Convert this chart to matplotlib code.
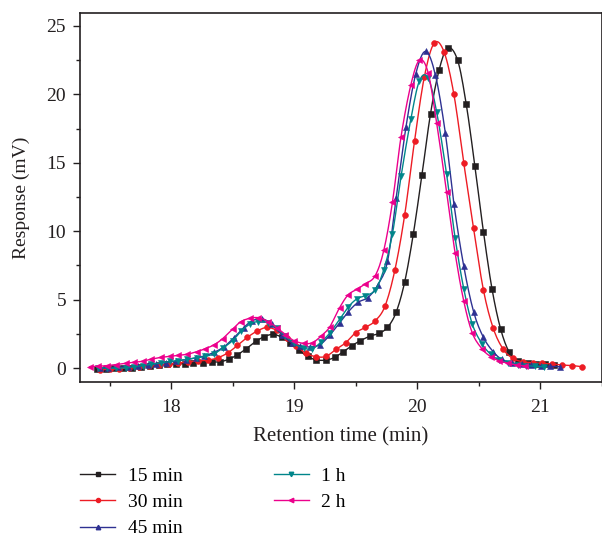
import matplotlib
matplotlib.use("Agg")
import matplotlib.pyplot as plt
from matplotlib.ticker import MultipleLocator
from matplotlib.lines import Line2D
import numpy as np

plt.rcParams['font.family'] = ['Liberation Serif', 'DejaVu Serif']

# ---- data ----
t_15min = [17.40, 17.47, 17.54, 17.61, 17.68, 17.76, 17.83, 17.90, 17.97, 18.04,
           18.11, 18.18, 18.26, 18.33, 18.40, 18.47, 18.54, 18.61, 18.69, 18.76,
           18.83, 18.90, 18.97, 19.04, 19.11, 19.18, 19.26, 19.33, 19.40, 19.47,
           19.54, 19.62, 19.69, 19.76, 19.83, 19.90, 19.97, 20.04, 20.11, 20.18,
           20.25, 20.33, 20.40, 20.47, 20.54, 20.61, 20.68, 20.75, 20.82, 20.90,
           20.97, 21.04, 21.11]
y_15min = [-0.05, -0.05, -0.03, 0.0, 0.03, 0.07, 0.12, 0.2, 0.26, 0.3,
           0.33, 0.37, 0.39, 0.42, 0.46, 0.64, 0.97, 1.4, 1.95, 2.3,
           2.46, 2.25, 1.8, 1.3, 0.85, 0.6, 0.58, 0.78, 1.19, 1.63,
           2.0, 2.34, 2.53, 2.97, 4.07, 6.3, 9.8, 14.1, 18.6, 21.8,
           23.4, 22.5, 19.3, 14.8, 9.97, 5.77, 2.85, 1.15, 0.55, 0.38,
           0.3, 0.26, 0.22]

t_30min = [17.42, 17.50, 17.58, 17.66, 17.74, 17.82, 17.90, 17.98, 18.06, 18.14,
           18.22, 18.30, 18.38, 18.46, 18.54, 18.62, 18.70, 18.78, 18.86, 18.94,
           19.02, 19.10, 19.18, 19.26, 19.34, 19.42, 19.50, 19.58, 19.66, 19.74,
           19.82, 19.90, 19.98, 20.06, 20.14, 20.22, 20.30, 20.38, 20.46, 20.54,
           20.62, 20.70, 20.78, 20.86, 20.94, 21.02, 21.10, 21.18, 21.26, 21.34]
y_30min = [-0.12, -0.1, -0.05, 0.03, 0.08, 0.13, 0.2, 0.28, 0.36, 0.45,
           0.52, 0.58, 0.75, 1.1, 1.65, 2.24, 2.7, 2.97, 2.75, 2.2,
           1.6, 1.07, 0.83, 0.85, 1.36, 1.85, 2.58, 2.97, 3.45, 4.53,
           7.16, 11.2, 16.6, 21.3, 23.75, 23.1, 20.0, 15.0, 10.2, 5.7,
           2.9, 1.39, 0.7, 0.46, 0.4, 0.34, 0.3, 0.22, 0.18, 0.1]

t_45min = [17.42, 17.49, 17.57, 17.65, 17.73, 17.81, 17.88, 17.96, 18.04, 18.12,
           18.20, 18.27, 18.35, 18.43, 18.51, 18.59, 18.66, 18.74, 18.82, 18.90,
           18.98, 19.05, 19.13, 19.21, 19.29, 19.37, 19.44, 19.52, 19.60, 19.68,
           19.76, 19.83, 19.91, 19.99, 20.07, 20.15, 20.23, 20.30, 20.38, 20.46,
           20.54, 20.62, 20.69, 20.77, 20.85, 20.93, 21.01, 21.08, 21.16]
y_45min = [0.0, 0.03, 0.06, 0.1, 0.15, 0.22, 0.3, 0.4, 0.5, 0.6,
           0.75, 0.88, 1.15, 1.55, 2.2, 2.95, 3.45, 3.6, 3.2, 2.45,
           1.85, 1.6, 1.55, 1.7, 2.4, 3.3, 4.1, 4.8, 5.15, 6.05,
           7.8, 12.4, 17.6, 21.5, 23.15, 21.4, 17.2, 12.0, 7.45, 4.12,
           2.24, 1.19, 0.63, 0.4, 0.28, 0.2, 0.15, 0.12, 0.1]

t_1h = [17.41, 17.48, 17.55, 17.63, 17.70, 17.77, 17.84, 17.92, 17.99, 18.06,
        18.13, 18.21, 18.28, 18.35, 18.42, 18.50, 18.57, 18.64, 18.71, 18.79,
        18.86, 18.93, 19.00, 19.08, 19.15, 19.22, 19.29, 19.37, 19.44, 19.51,
        19.58, 19.66, 19.73, 19.80, 19.87, 19.95, 20.02, 20.09, 20.16, 20.24,
        20.31, 20.38, 20.45, 20.53, 20.60, 20.67, 20.74, 20.82, 20.89, 20.96,
        21.03]
y_1h = [0.0, 0.0, -0.02, 0.02, 0.1, 0.18, 0.28, 0.38, 0.48, 0.55,
        0.65, 0.75, 0.85, 1.05, 1.45, 2.0, 2.7, 3.2, 3.4, 3.3,
        2.9, 2.35, 1.8, 1.45, 1.42, 1.9, 2.55, 3.55, 4.45, 5.05,
        5.3, 5.7, 7.2, 9.8, 14.0, 18.2, 21.0, 21.2, 18.7, 14.2,
        9.5, 5.8, 3.2, 1.75, 1.0, 0.58, 0.4, 0.25, 0.18, 0.12,
        0.1]

t_2h = [17.34, 17.41, 17.48, 17.55, 17.63, 17.70, 17.77, 17.84, 17.92, 17.99,
        18.06, 18.13, 18.21, 18.28, 18.35, 18.42, 18.50, 18.57, 18.64, 18.71,
        18.79, 18.86, 18.93, 19.00, 19.08, 19.15, 19.22, 19.29, 19.37, 19.44,
        19.51, 19.58, 19.66, 19.73, 19.80, 19.87, 19.95, 20.02, 20.09, 20.16,
        20.24, 20.31, 20.38, 20.45, 20.53, 20.60, 20.67, 20.74, 20.81, 20.88]
y_2h = [0.1, 0.13, 0.18, 0.25, 0.35, 0.42, 0.5, 0.65, 0.78, 0.85,
        0.93, 1.0, 1.2, 1.42, 1.7, 2.15, 2.85, 3.4, 3.63, 3.68,
        3.4, 2.95, 2.45, 2.0, 1.8, 1.85, 2.34, 3.0, 4.4, 5.35,
        5.75, 6.15, 6.75, 8.6, 12.1, 16.9, 20.7, 22.5, 21.6, 17.9,
        12.9, 8.4, 4.9, 2.55, 1.39, 0.83, 0.52, 0.35, 0.22, 0.15]

labels = ['15 min', '30 min', '45 min', '1 h', '2 h']
x_ticks = [18, 19, 20, 21]
y_ticks = [0, 5, 10, 15, 20, 25]

series = [
    (t_15min, y_15min, '#231f20', 's', 4.0),
    (t_30min, y_30min, '#ed1c24', 'o', 4.2),
    (t_45min, y_45min, '#2e3192', '^', 4.6),
    (t_1h, y_1h, '#00858a', 'v', 4.6),
    (t_2h, y_2h, '#ec008c', '<', 4.6),
]


def smooth_path(x, y, n=8):
    """Catmull-Rom curve through the data points (rendering only)."""
    p = np.column_stack([x, y]).astype(float)
    p = np.vstack([p[0], p, p[-1]])
    out = []
    s = np.linspace(0, 1, n, endpoint=False)[:, None]
    for i in range(1, len(p) - 2):
        p0, p1, p2, p3 = p[i - 1], p[i], p[i + 1], p[i + 2]
        seg = 0.5 * ((2 * p1) + (-p0 + p2) * s
                     + (2 * p0 - 5 * p1 + 4 * p2 - p3) * s ** 2
                     + (-p0 + 3 * p1 - 3 * p2 + p3) * s ** 3)
        out.append(seg)
    out.append(p[-2][None, :])
    out = np.vstack(out)
    return out[:, 0], out[:, 1]


fig = plt.figure(figsize=(6.02, 5.39), dpi=100)
ax = fig.add_axes([80 / 602, 1 - 382 / 539, 521.5 / 602, 369 / 539])

handles = []
for (t, y, c, m, ms), lab in zip(series, labels):
    sx, sy = smooth_path(t, y)
    ax.plot(sx, sy, color=c, linewidth=1.0)
    ax.plot(t, y, linestyle='none', color=c, marker=m, markersize=ms,
            markeredgewidth=0.4)
    handles.append(Line2D([], [], color=c, marker=m, markersize=ms * 0.7,
                          linewidth=1.0, label=lab))

ax.set_xlim(17.26, 21.5)
ax.set_ylim(-1.02, 25.95)
ax.set_xticks(x_ticks)
ax.set_yticks(y_ticks)
ax.xaxis.set_minor_locator(MultipleLocator(0.5))
ax.yaxis.set_minor_locator(MultipleLocator(2.5))
ax.tick_params(axis='x', which='major', pad=7)
ax.tick_params(axis='y', which='major', pad=5)
ax.tick_params(which='major', direction='out', length=5, width=1.0,
               labelsize=14, colors='#231f20')
ax.tick_params(which='minor', direction='out', length=3, width=1.0,
               colors='#231f20')
ax.tick_params(top=False, right=False)
for s in ax.spines.values():
    s.set_linewidth(1.2)
    s.set_color('#231f20')

ax.set_xlabel('Retention time (min)', fontsize=15, color='#231f20', labelpad=8.5)
ax.set_ylabel('Response (mV)', fontsize=14, color='#231f20', labelpad=12)

fig.legend(handles=handles, loc='upper left',
           bbox_to_anchor=(80 / 602, 1 - 467 / 539),
           ncol=2, frameon=False, fontsize=14, handlelength=1.8,
           handletextpad=0.65, columnspacing=4.7, labelspacing=0.45,
           borderpad=0, borderaxespad=0)

fig.savefig('out.png', dpi=100)
